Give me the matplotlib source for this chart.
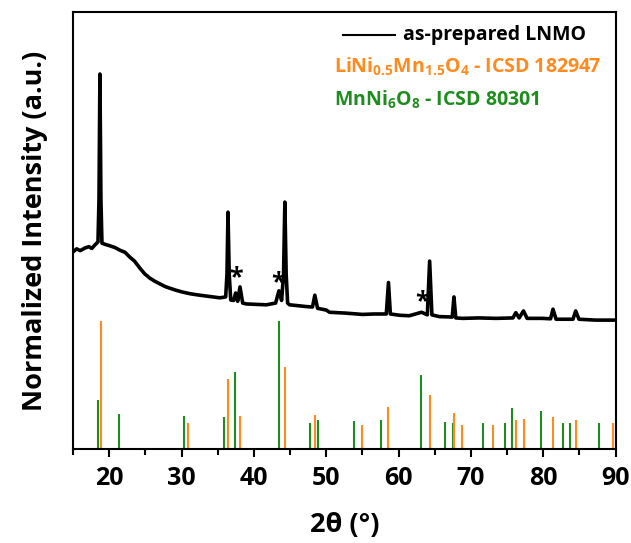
import matplotlib
matplotlib.use("Agg")
import matplotlib.pyplot as plt
from matplotlib.ticker import MultipleLocator

FONT = 'Open Sans'
plt.rcParams['font.family'] = [FONT, 'DejaVu Sans']
plt.rcParams['font.weight'] = 'bold'
plt.rcParams['mathtext.fontset'] = 'custom'
plt.rcParams['mathtext.rm'] = FONT + ':bold'
plt.rcParams['mathtext.it'] = FONT + ':bold'
plt.rcParams['mathtext.bf'] = FONT + ':bold'

# Measured pattern (2theta, normalized intensity)
trace_2theta = [15.0, 15.5, 16.0, 16.66, 17.2, 17.6, 18.03, 18.45, 18.59, 18.72, 18.86, 19.0,
                19.5, 20.1, 20.8, 21.48, 22.2, 22.86, 23.5, 24.24, 24.9, 25.62, 26.3, 27.0,
                27.7, 28.38, 29.3, 30.17, 31.3, 32.52, 33.9, 35.28, 36.1, 36.28,
                36.42, 36.59, 36.8, 37.2, 37.48, 37.76, 38.08, 38.45, 38.96, 40.3, 41.72,
                43.0, 43.46, 43.83, 44.1, 44.28, 44.46, 44.66, 44.93, 46.1, 47.23, 48.1,
                48.42, 48.8, 50.0, 50.45, 52.7, 55.0, 56.6, 58.3, 58.6, 58.86, 60.2, 61.48, 63.18,
                63.97, 64.29, 64.6, 65.62, 67.41, 67.65, 67.9, 68.84, 71.1, 73.45, 75.8,
                76.2, 76.66, 77.26, 77.76, 79.87, 81.0, 81.34, 81.76, 82.63, 84.1,
                84.47, 84.93, 87.23, 90.0]
trace_int = [0.451, 0.458, 0.454, 0.460, 0.463, 0.459, 0.467, 0.474, 0.570, 0.858, 0.570, 0.471,
             0.468, 0.465, 0.461, 0.455, 0.450, 0.439, 0.430, 0.414, 0.401, 0.391, 0.384, 0.378,
             0.372, 0.368, 0.363, 0.359, 0.355, 0.352, 0.349, 0.346, 0.348, 0.400,
             0.542, 0.400, 0.341, 0.340, 0.357, 0.338, 0.371, 0.334, 0.332, 0.331, 0.330,
             0.334, 0.362, 0.340, 0.400, 0.565, 0.400, 0.334, 0.330, 0.328, 0.326, 0.325,
             0.352, 0.322, 0.318, 0.313, 0.311, 0.308, 0.309, 0.309, 0.381, 0.309, 0.306, 0.305, 0.313,
             0.307, 0.430, 0.307, 0.303, 0.302, 0.348, 0.300, 0.299, 0.300, 0.299, 0.300,
             0.312, 0.300, 0.316, 0.299, 0.299, 0.298, 0.320, 0.297, 0.297, 0.297,
             0.316, 0.297, 0.295, 0.295]

# Reference patterns (2theta, relative intensity 0-100)
lnmo_pos = [18.8, 30.9, 36.4, 38.1, 44.3, 48.5, 54.9, 58.6, 64.4, 67.7, 68.8,
            73.1, 76.2, 77.3, 81.4, 84.5, 89.6]
lnmo_rel = [100, 20, 55, 25.5, 64, 26.5, 19, 32.5, 42.5, 28.5, 19,
            19, 22.5, 23.5, 25, 22.5, 20]
mnni_pos = [18.45, 21.4, 30.4, 35.8, 37.4, 43.5, 47.7, 48.9, 53.9, 57.5, 63.1,
            66.4, 67.5, 71.7, 74.7, 75.7, 79.7, 82.7, 83.7, 87.7]
mnni_rel = [38, 27.5, 26, 25, 60, 100, 20.5, 22.5, 22, 22.5, 57.5,
            21.5, 20.5, 20, 20, 32, 29.5, 20.5, 20, 20]

star_pos = [37.5, 43.3, 63.2]
star_y = [0.391, 0.380, 0.336]

orange = '#FF8A1E'
green = '#1E8C1E'
stick_scale = 0.00293

fig = plt.figure(figsize=(6.31, 5.43), dpi=100)
ax = fig.add_axes([0.1157, 0.173, 0.860, 0.805])

ax.vlines(mnni_pos, 0, [r * stick_scale for r in mnni_rel], color=green, lw=1.5)
ax.vlines(lnmo_pos, 0, [r * stick_scale for r in lnmo_rel], color=orange, lw=1.5)
ax.plot(trace_2theta, trace_int, color='black', lw=2.6)

for xp, yp in zip(star_pos, star_y):
    ax.text(xp, yp, '*', fontsize=18, ha='center', va='center', fontweight='bold')

ax.set_xlim(15, 90)
ax.set_ylim(0, 1)
ax.xaxis.set_major_locator(MultipleLocator(10))
ax.xaxis.set_minor_locator(MultipleLocator(5))
ax.set_yticks([])
ax.tick_params(axis='x', which='major', direction='out', length=6, width=1.5,
               labelsize=18, pad=6)
ax.tick_params(axis='x', which='minor', direction='out', length=4, width=1.5)
for lab in ax.get_xticklabels():
    lab.set_fontweight('bold')
for s in ax.spines.values():
    s.set_linewidth(1.5)

ax.set_xlabel('2θ (°)', fontsize=19.5, fontweight='bold', labelpad=15)
ax.set_ylabel('Normalized Intensity (a.u.)', fontsize=19.5, fontweight='bold', labelpad=18)

# legend drawn manually
ax.plot([0.497, 0.593], [0.947, 0.947], transform=ax.transAxes, color='black', lw=1.5)
ax.text(0.608, 0.947, 'as-prepared LNMO', transform=ax.transAxes, fontsize=14,
        fontweight='bold', va='center', ha='left', color='black')
ax.text(0.481, 0.874, r'LiNi$_{0.5}$Mn$_{1.5}$O$_4$ - ICSD 182947', transform=ax.transAxes,
        fontsize=14, fontweight='bold', va='center', ha='left', color=orange)
ax.text(0.481, 0.799, r'MnNi$_6$O$_8$ - ICSD 80301', transform=ax.transAxes,
        fontsize=14, fontweight='bold', va='center', ha='left', color=green)

fig.savefig('out.png', dpi=100)
